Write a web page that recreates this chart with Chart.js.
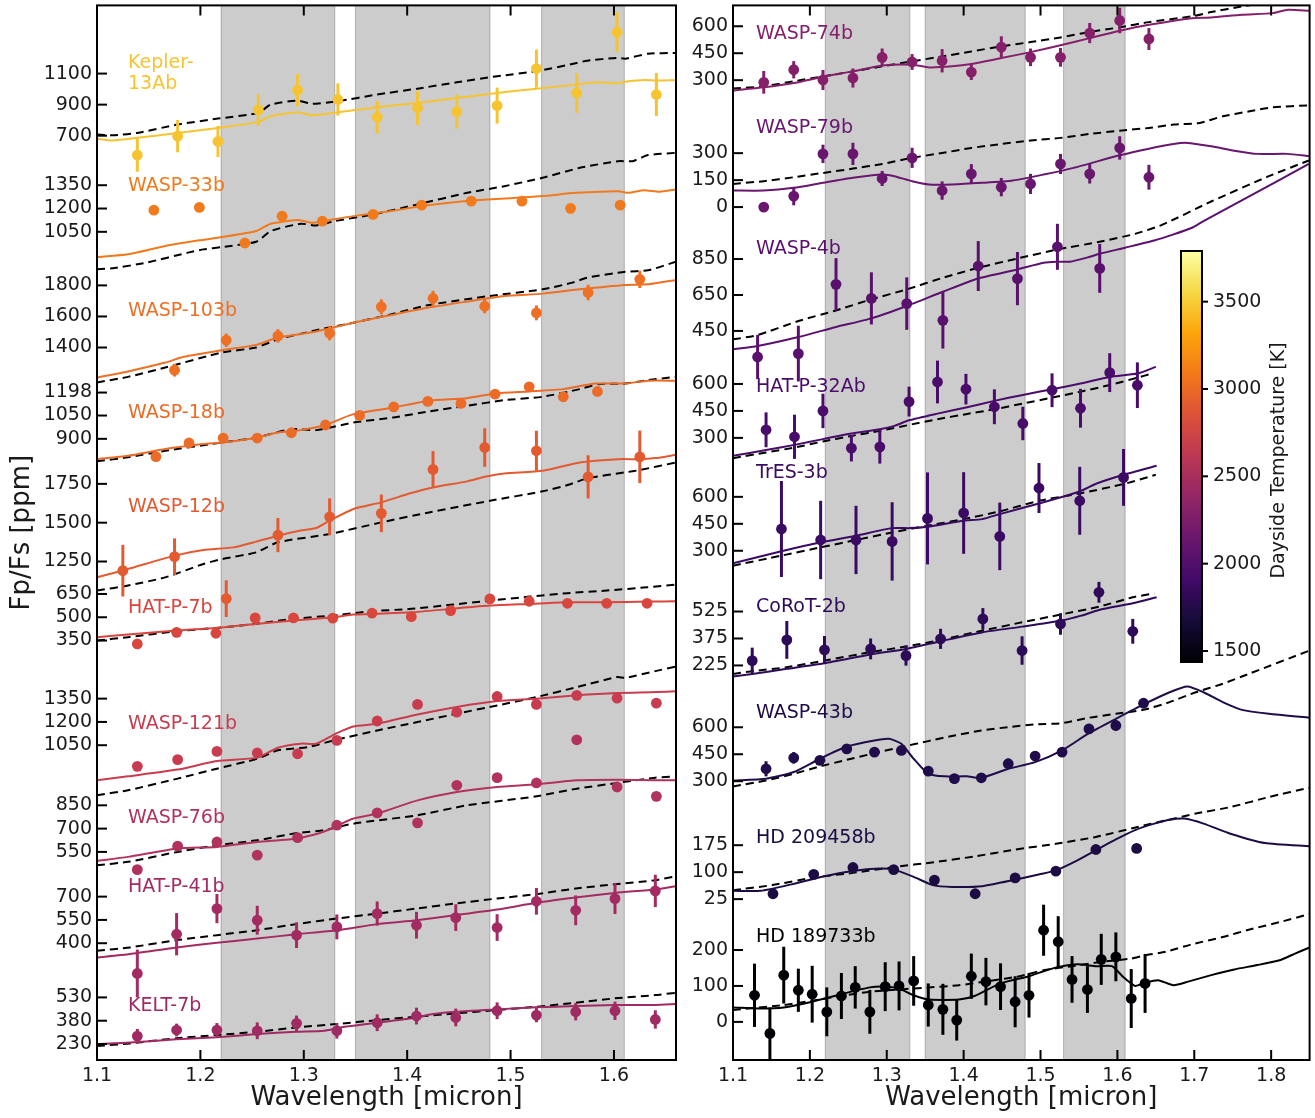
<!DOCTYPE html>
<html>
<head>
<meta charset="utf-8">
<script src="https://cdn.jsdelivr.net/npm/chart.js@4.4.0/dist/chart.umd.min.js"></script>
<style>
  html, body { margin: 0; padding: 0; background: #fff; }
  #wrap { position: relative; width: 1315px; height: 1118px; }
  canvas { position: absolute; top: 0; }
  #left { left: 0; }
  #right { left: 690px; }
</style>
</head>
<body>
<div id="wrap">
  <canvas id="left" width="690" height="1118"></canvas>
  <canvas id="right" width="625" height="1118"></canvas>
</div>
<script>
// ---- data: [wavelength, Fp/Fs ppm, error] and model curves [wavelength, ppm] ----
const kepler13Ab_obs = [[1.139,575,107],[1.178,697,104],[1.217,663,100],[1.256,866,102],[1.294,993,105],[1.333,933,104],[1.371,819,105],[1.410,879,109],[1.448,855,110],[1.487,894,116],[1.525,1132,123],[1.564,975,129],[1.603,1366,129],[1.641,965,139]];
const kepler13Ab_model = [[1.100,680],[1.115,669],[1.139,686],[1.178,718],[1.217,750],[1.256,789],[1.268,825],[1.294,851],[1.308,832],[1.333,851],[1.371,883],[1.410,911],[1.448,943],[1.487,975],[1.525,1003],[1.564,1029],[1.582,1044],[1.603,1038],[1.614,1050],[1.629,1059],[1.641,1055],[1.660,1057]];
const kepler13Ab_bb = [[1.100,708],[1.115,703],[1.139,718],[1.178,772],[1.217,810],[1.256,847],[1.268,900],[1.294,926],[1.308,905],[1.333,922],[1.371,965],[1.410,1003],[1.448,1044],[1.487,1083],[1.525,1115],[1.564,1168],[1.574,1183],[1.603,1201],[1.611,1196],[1.633,1228],[1.660,1233]];
const kepler13Ab_ticks = [700, 900, 1100];

const wasp33b_obs = [[1.155,1190,15],[1.199,1207,15],[1.243,978,15],[1.279,1151,15],[1.318,1119,15],[1.367,1162,15],[1.414,1222,15],[1.462,1248,15],[1.511,1248,15],[1.558,1201,15],[1.606,1222,15]];
const wasp33b_model = [[1.100,888],[1.130,905],[1.166,959],[1.199,995],[1.221,1016],[1.254,1055],[1.268,1102],[1.294,1126],[1.308,1108],[1.319,1119],[1.348,1151],[1.385,1184],[1.414,1216],[1.462,1252],[1.494,1265],[1.531,1280],[1.563,1301],[1.604,1312],[1.614,1301],[1.629,1318],[1.644,1308],[1.660,1323]];
const wasp33b_bb = [[1.100,809],[1.115,815],[1.148,852],[1.188,916],[1.203,937],[1.221,952],[1.254,986],[1.268,1055],[1.297,1102],[1.312,1091],[1.330,1119],[1.367,1162],[1.407,1222],[1.458,1301],[1.494,1344],[1.531,1398],[1.567,1462],[1.604,1505],[1.618,1505],[1.633,1544],[1.660,1559]];
const wasp33b_ticks = [1050, 1200, 1350];

const wasp103b_obs = [[1.175,1254,41],[1.225,1447,43],[1.275,1475,43],[1.325,1492,46],[1.375,1662,48],[1.425,1717,48],[1.475,1666,46],[1.525,1623,48],[1.575,1754,50],[1.625,1839,56]];
const wasp103b_model = [[1.100,1207],[1.130,1246],[1.166,1303],[1.184,1340],[1.221,1383],[1.254,1417],[1.275,1464],[1.312,1503],[1.348,1560],[1.385,1610],[1.421,1657],[1.458,1696],[1.494,1732],[1.531,1747],[1.567,1775],[1.611,1803],[1.633,1807],[1.660,1835]];
const wasp103b_bb = [[1.100,1175],[1.130,1211],[1.166,1271],[1.221,1368],[1.254,1400],[1.275,1453],[1.312,1511],[1.348,1560],[1.385,1614],[1.421,1674],[1.480,1732],[1.531,1775],[1.560,1818],[1.574,1850],[1.611,1888],[1.633,1897],[1.660,1953]];
const wasp103b_ticks = [1400, 1600, 1800];

const wasp18b_obs = [[1.157,785,15],[1.189,873,15],[1.222,905,15],[1.255,905,15],[1.288,939,15],[1.321,989,15],[1.354,1051,15],[1.387,1106,15],[1.420,1141,15],[1.452,1128,15],[1.485,1188,15],[1.518,1235,15],[1.551,1171,15],[1.584,1205,15]];
const wasp18b_model = [[1.100,770],[1.130,791],[1.166,834],[1.203,866],[1.222,877],[1.255,909],[1.275,941],[1.297,956],[1.321,989],[1.348,1059],[1.387,1102],[1.421,1145],[1.458,1162],[1.485,1192],[1.518,1205],[1.551,1220],[1.582,1256],[1.611,1256],[1.633,1274],[1.660,1274]];
const wasp18b_bb = [[1.100,755],[1.130,781],[1.166,823],[1.222,877],[1.255,909],[1.288,963],[1.312,956],[1.348,1005],[1.387,1038],[1.421,1076],[1.458,1113],[1.494,1149],[1.531,1171],[1.567,1220],[1.585,1252],[1.611,1256],[1.633,1278],[1.660,1299]];
const wasp18b_ticks = [900, 1050, 1198];

const wasp12b_obs = [[1.125,1191,166],[1.175,1281,118],[1.225,1011,118],[1.275,1420,110],[1.325,1538,119],[1.375,1560,121],[1.425,1843,118],[1.475,1984,124],[1.525,1963,129],[1.575,1795,139],[1.625,1924,169]];
const wasp12b_model = [[1.100,1148],[1.130,1202],[1.175,1288],[1.203,1324],[1.232,1341],[1.254,1378],[1.275,1416],[1.297,1449],[1.312,1466],[1.325,1513],[1.348,1588],[1.375,1631],[1.403,1689],[1.425,1727],[1.458,1766],[1.475,1796],[1.494,1817],[1.531,1834],[1.567,1888],[1.604,1909],[1.625,1909],[1.640,1916],[1.660,1937]];
const wasp12b_bb = [[1.100,1063],[1.130,1095],[1.166,1148],[1.203,1234],[1.221,1266],[1.254,1309],[1.275,1374],[1.325,1427],[1.375,1502],[1.421,1566],[1.480,1641],[1.531,1702],[1.556,1744],[1.575,1787],[1.611,1824],[1.625,1839],[1.660,1888]];
const wasp12b_ticks = [1250, 1500, 1750];

const hatp7b_obs = [[1.139,328,15],[1.177,403,15],[1.215,397,15],[1.253,496,15],[1.290,496,15],[1.328,494,15],[1.366,526,15],[1.404,504,15],[1.442,543,20],[1.480,618,22],[1.518,603,25],[1.555,590,25],[1.593,590,25],[1.632,590,25]];
const hatp7b_model = [[1.100,372],[1.130,389],[1.177,414],[1.215,431],[1.253,457],[1.290,479],[1.328,500],[1.348,517],[1.404,532],[1.442,554],[1.480,575],[1.518,586],[1.555,597],[1.593,597],[1.632,601],[1.660,603]];
const hatp7b_bb = [[1.100,350],[1.130,372],[1.177,410],[1.215,431],[1.253,457],[1.290,490],[1.328,511],[1.366,539],[1.404,554],[1.442,580],[1.480,607],[1.518,633],[1.555,655],[1.593,672],[1.632,693],[1.660,710]];
const hatp7b_ticks = [350, 500, 650];

const wasp121b_obs = [[1.139,914,15],[1.178,957,15],[1.216,1010,15],[1.255,1000,15],[1.294,995,15],[1.332,1081,15],[1.371,1206,15],[1.410,1313,15],[1.448,1263,15],[1.487,1364,15],[1.525,1313,15],[1.564,1371,15],[1.603,1353,15],[1.641,1321,15]];
const wasp121b_model = [[1.100,824],[1.130,850],[1.178,893],[1.216,948],[1.255,970],[1.275,1034],[1.297,1060],[1.312,1060],[1.332,1128],[1.348,1171],[1.371,1188],[1.410,1248],[1.448,1296],[1.487,1334],[1.525,1349],[1.564,1371],[1.603,1386],[1.641,1392],[1.660,1398]];
const wasp121b_bb = [[1.100,728],[1.130,760],[1.178,835],[1.216,899],[1.255,963],[1.275,1017],[1.304,1038],[1.332,1086],[1.371,1145],[1.410,1199],[1.448,1253],[1.487,1306],[1.525,1360],[1.564,1424],[1.603,1489],[1.611,1484],[1.640,1527],[1.660,1557]];
const wasp121b_ticks = [1050, 1200, 1350];

const wasp76b_obs = [[1.139,436,15],[1.178,587,15],[1.216,614,15],[1.255,529,15],[1.294,642,15],[1.332,722,15],[1.371,801,15],[1.410,737,15],[1.448,979,15],[1.487,1028,15],[1.525,994,15],[1.564,1272,20],[1.603,968,20],[1.641,908,22]];
const wasp76b_model = [[1.100,492],[1.130,518],[1.178,572],[1.216,582],[1.255,614],[1.294,636],[1.319,679],[1.348,765],[1.371,797],[1.410,882],[1.448,936],[1.487,968],[1.525,985],[1.564,1011],[1.603,1015],[1.641,1011],[1.660,1011]];
const wasp76b_bb = [[1.100,464],[1.130,486],[1.178,550],[1.216,593],[1.255,625],[1.294,672],[1.319,689],[1.348,732],[1.410,786],[1.458,850],[1.525,908],[1.564,957],[1.603,994],[1.640,1028],[1.660,1037]];
const wasp76b_ticks = [550, 700, 850];

const hatp41b_obs = [[1.139,205,154],[1.177,458,136],[1.216,623,94],[1.255,548,93],[1.293,452,83],[1.332,505,80],[1.371,591,78],[1.409,516,86],[1.447,565,86],[1.487,501,86],[1.525,670,86],[1.563,612,96],[1.601,687,99],[1.640,737,104]];
const hatp41b_model = [[1.100,308],[1.132,330],[1.177,373],[1.216,403],[1.255,430],[1.293,458],[1.332,484],[1.371,523],[1.409,548],[1.447,581],[1.487,617],[1.525,660],[1.563,694],[1.601,724],[1.640,746],[1.660,767]];
const hatp41b_bb = [[1.100,351],[1.132,373],[1.177,420],[1.216,452],[1.255,484],[1.293,523],[1.332,559],[1.371,591],[1.409,623],[1.447,656],[1.487,688],[1.525,716],[1.563,752],[1.601,780],[1.640,806],[1.660,831]];
const hatp41b_ticks = [400, 550, 700];

const kelt7b_obs = [[1.139,281,46],[1.177,320,41],[1.216,320,45],[1.255,315,54],[1.293,363,50],[1.332,315,50],[1.371,367,54],[1.409,410,54],[1.447,401,57],[1.487,444,54],[1.525,416,46],[1.563,438,56],[1.601,444,59],[1.640,388,59]];
const kelt7b_model = [[1.100,230],[1.132,239],[1.177,260],[1.216,273],[1.255,294],[1.293,309],[1.320,316],[1.341,342],[1.371,367],[1.409,401],[1.425,423],[1.447,438],[1.487,453],[1.525,466],[1.563,474],[1.601,481],[1.640,481],[1.660,487]];
const kelt7b_bb = [[1.100,217],[1.132,234],[1.177,267],[1.216,288],[1.255,309],[1.293,337],[1.332,359],[1.371,384],[1.409,406],[1.447,427],[1.487,449],[1.525,470],[1.563,496],[1.601,524],[1.640,545],[1.660,560]];
const kelt7b_ticks = [230, 380, 530];

const wasp74b_obs = [[1.140,288,63],[1.179,358,48],[1.217,301,56],[1.256,312,53],[1.294,427,49],[1.333,401,44],[1.372,408,65],[1.410,345,44],[1.449,484,60],[1.487,427,49],[1.526,427,52],[1.564,562,56],[1.603,632,71],[1.641,529,61]];
const wasp74b_model = [[1.100,242],[1.140,260],[1.179,284],[1.217,319],[1.256,349],[1.294,382],[1.333,386],[1.355,371],[1.385,377],[1.410,390],[1.449,423],[1.487,456],[1.526,494],[1.564,534],[1.603,575],[1.641,608],[1.697,645],[1.722,649],[1.762,664],[1.802,673],[1.822,692],[1.850,686]];
const wasp74b_bb = [[1.100,253],[1.140,266],[1.179,294],[1.217,321],[1.256,349],[1.294,377],[1.333,405],[1.372,432],[1.410,460],[1.449,488],[1.487,512],[1.526,538],[1.564,568],[1.603,594],[1.641,623],[1.697,655],[1.722,679],[1.762,710],[1.782,723],[1.802,729],[1.850,775]];
const wasp74b_ticks = [300, 450, 600];

const wasp79b_obs = [[1.140,0,12],[1.179,61,51],[1.217,296,51],[1.256,296,62],[1.294,159,42],[1.333,274,56],[1.372,92,51],[1.410,185,54],[1.449,111,51],[1.487,129,56],[1.526,240,56],[1.564,185,54],[1.603,329,65],[1.641,166,69]];
const wasp79b_model = [[1.100,92],[1.140,92],[1.179,107],[1.217,135],[1.256,163],[1.294,181],[1.310,172],[1.333,144],[1.355,126],[1.385,126],[1.424,135],[1.464,148],[1.504,181],[1.543,218],[1.603,288],[1.641,325],[1.673,351],[1.691,357],[1.722,338],[1.752,314],[1.782,296],[1.821,296],[1.850,283]];
const wasp79b_bb = [[1.100,129],[1.140,144],[1.179,166],[1.217,190],[1.256,214],[1.294,240],[1.333,274],[1.372,301],[1.410,329],[1.449,351],[1.487,370],[1.526,385],[1.564,407],[1.603,425],[1.641,440],[1.673,459],[1.707,468],[1.737,505],[1.772,533],[1.802,555],[1.850,566]];
const wasp79b_ticks = [0, 150, 300];

const wasp4b_obs = [[1.132,305,123],[1.185,324,155],[1.234,709,146],[1.280,631,145],[1.326,602,146],[1.373,509,157],[1.419,811,139],[1.470,741,148],[1.522,918,128],[1.577,798,136]];
const wasp4b_model = [[1.100,348],[1.132,366],[1.185,416],[1.234,472],[1.280,520],[1.326,589],[1.373,668],[1.419,742],[1.470,792],[1.504,829],[1.522,835],[1.538,835],[1.563,861],[1.577,879],[1.610,913],[1.648,953],[1.673,987],[1.697,1024],[1.712,1061],[1.772,1200],[1.849,1379]];
const wasp4b_bb = [[1.100,403],[1.132,427],[1.185,505],[1.234,564],[1.280,626],[1.326,681],[1.373,746],[1.419,801],[1.470,853],[1.522,903],[1.577,946],[1.623,990],[1.658,1040],[1.722,1170],[1.797,1311],[1.849,1398]];
const wasp4b_ticks = [450, 650, 850];

const hatp32Ab_obs = [[1.143,345,97],[1.180,306,123],[1.217,450,96],[1.254,243,74],[1.291,250,93],[1.329,502,83],[1.366,611,119],[1.403,571,85],[1.440,473,97],[1.477,380,93],[1.515,565,94],[1.552,465,108],[1.590,663,108],[1.626,593,127]];
const hatp32Ab_model = [[1.100,200],[1.143,232],[1.180,261],[1.217,293],[1.254,324],[1.291,348],[1.310,367],[1.329,398],[1.366,435],[1.403,469],[1.440,506],[1.477,539],[1.515,571],[1.552,602],[1.590,639],[1.626,658],[1.650,695]];
const hatp32Ab_bb = [[1.100,187],[1.143,219],[1.180,246],[1.217,280],[1.254,311],[1.291,339],[1.329,372],[1.366,404],[1.403,432],[1.440,459],[1.477,491],[1.515,524],[1.552,557],[1.590,594],[1.626,635],[1.645,658]];
const hatp32Ab_ticks = [300, 450, 600];

const tres3b_obs = [[1.163,421,267],[1.214,360,218],[1.260,360,190],[1.307,352,218],[1.353,480,256],[1.400,510,227],[1.447,380,188],[1.498,649,139],[1.551,578,189],[1.608,708,158]];
const tres3b_model = [[1.100,230],[1.163,297],[1.214,347],[1.260,384],[1.307,426],[1.330,426],[1.353,434],[1.400,467],[1.424,476],[1.447,504],[1.498,563],[1.551,630],[1.573,674],[1.608,723],[1.651,773]];
const tres3b_bb = [[1.100,217],[1.163,273],[1.214,319],[1.260,360],[1.307,402],[1.353,439],[1.400,476],[1.447,519],[1.498,578],[1.551,619],[1.608,671],[1.650,723]];
const tres3b_ticks = [300, 450, 600];

const corot2b_obs = [[1.125,252,72],[1.170,367,105],[1.219,312,77],[1.279,317,58],[1.325,280,56],[1.370,373,56],[1.425,484,60],[1.476,308,79],[1.526,456,60],[1.576,632,58],[1.620,415,69]];
const corot2b_model = [[1.100,163],[1.125,178],[1.170,206],[1.219,237],[1.279,286],[1.325,317],[1.370,360],[1.425,410],[1.476,441],[1.526,474],[1.553,502],[1.576,534],[1.620,571],[1.651,604]];
const corot2b_bb = [[1.100,178],[1.125,193],[1.170,215],[1.219,252],[1.279,299],[1.325,330],[1.370,367],[1.425,419],[1.476,465],[1.526,508],[1.576,552],[1.620,604],[1.648,626]];
const corot2b_ticks = [225, 375, 525];

const wasp43b_obs = [[1.143,369,42],[1.179,430,32],[1.213,416,25],[1.248,480,25],[1.284,462,25],[1.319,471,25],[1.354,356,25],[1.388,314,25],[1.423,319,25],[1.458,397,28],[1.493,440,28],[1.528,462,25],[1.563,591,28],[1.598,610,28],[1.634,734,28]];
const wasp43b_model = [[1.100,304],[1.143,314],[1.179,351],[1.213,425],[1.248,493],[1.284,527],[1.303,536],[1.319,508],[1.335,425],[1.354,341],[1.375,327],[1.404,327],[1.423,319],[1.458,369],[1.493,406],[1.528,471],[1.563,567],[1.598,647],[1.634,727],[1.668,795],[1.691,827],[1.712,795],[1.737,740],[1.762,697],[1.797,675],[1.850,653]];
const wasp43b_bb = [[1.100,271],[1.143,304],[1.179,341],[1.213,382],[1.248,419],[1.284,456],[1.319,490],[1.354,523],[1.388,554],[1.423,582],[1.458,601],[1.493,616],[1.528,623],[1.563,653],[1.598,675],[1.634,697],[1.668,740],[1.702,795],[1.737,842],[1.772,899],[1.850,1027]];
const wasp43b_ticks = [300, 450, 600];

const hd209458b_obs = [[1.152,40,5],[1.205,94,5],[1.256,113,5],[1.309,107,5],[1.362,78,5],[1.415,40,5],[1.467,84,5],[1.520,103,5],[1.572,163,5],[1.625,166,7]];
const hd209458b_model = [[1.100,48],[1.136,48],[1.176,66],[1.216,87],[1.256,103],[1.290,110],[1.309,107],[1.335,87],[1.360,64],[1.385,59],[1.424,61],[1.467,79],[1.499,94],[1.520,105],[1.548,133],[1.572,161],[1.598,191],[1.623,217],[1.648,235],[1.668,246],[1.687,249],[1.712,235],[1.747,207],[1.792,181],[1.850,172]];
const hd209458b_bb = [[1.100,50],[1.151,64],[1.205,85],[1.256,98],[1.309,114],[1.362,128],[1.415,144],[1.467,163],[1.520,179],[1.572,198],[1.625,225],[1.663,244],[1.702,263],[1.747,281],[1.797,309],[1.850,335]];
const hd209458b_ticks = [25, 100, 175];

const hd189733b_obs = [[1.128,74,88],[1.148,-32,72],[1.166,130,79],[1.185,88,60],[1.203,77,79],[1.222,28,68],[1.241,72,64],[1.259,96,59],[1.278,28,61],[1.298,98,68],[1.316,100,68],[1.335,114,69],[1.354,47,60],[1.373,35,71],[1.391,5,57],[1.410,127,63],[1.429,112,66],[1.448,98,65],[1.467,56,71],[1.485,74,62],[1.504,255,71],[1.523,223,71],[1.541,118,65],[1.561,90,65],[1.579,174,71],[1.598,181,68],[1.618,65,82],[1.636,107,82]];
const hd189733b_model = [[1.100,40],[1.136,37],[1.166,40],[1.203,56],[1.241,77],[1.278,96],[1.298,98],[1.316,93],[1.335,74],[1.355,62],[1.394,62],[1.414,72],[1.448,107],[1.485,127],[1.504,141],[1.524,153],[1.548,160],[1.573,155],[1.593,155],[1.608,124],[1.623,100],[1.636,109],[1.653,116],[1.673,102],[1.692,112],[1.722,130],[1.752,146],[1.782,158],[1.812,172],[1.831,190],[1.850,207]];
const hd189733b_bb = [[1.100,33],[1.166,47],[1.203,59],[1.241,72],[1.278,84],[1.316,90],[1.355,96],[1.394,102],[1.434,114],[1.473,127],[1.504,144],[1.541,155],[1.579,167],[1.618,176],[1.638,186],[1.663,195],[1.697,216],[1.737,236],[1.772,257],[1.812,278],[1.850,300]];
const hd189733b_ticks = [0, 100, 200];

const xTicksLeft = [1.1, 1.2, 1.3, 1.4, 1.5, 1.6];
const xTicksRight = [1.1, 1.2, 1.3, 1.4, 1.5, 1.6, 1.7, 1.8];
const grayBands = [[1.22, 1.33], [1.35, 1.48], [1.53, 1.61]];
const cbarTicks = [1500, 2000, 2500, 3000, 3500];
const cbarRange = [1437, 3790];

// ---- stacking: each spectrum is shifted by an offset on a shared axis ----
const leftPanel = [
  { label: ['Kepler-', '13Ab'], obs: kepler13Ab_obs, model: kepler13Ab_model, bb: kepler13Ab_bb, ticks: kepler13Ab_ticks, color: '#f6c431', offset: 5252, labelAt: 1100 },
  { label: ['WASP-33b'], obs: wasp33b_obs, model: wasp33b_model, bb: wasp33b_bb, ticks: wasp33b_ticks, color: '#f17a1c', offset: 4283, labelAt: 1344 },
  { label: ['WASP-103b'], obs: wasp103b_obs, model: wasp103b_model, bb: wasp103b_bb, ticks: wasp103b_ticks, color: '#ee7024', offset: 3188, labelAt: 1635 },
  { label: ['WASP-18b'], obs: wasp18b_obs, model: wasp18b_model, bb: wasp18b_bb, ticks: wasp18b_ticks, color: '#ec6b26', offset: 3100, labelAt: 1067 },
  { label: ['WASP-12b'], obs: wasp12b_obs, model: wasp12b_model, bb: wasp12b_bb, ticks: wasp12b_ticks, color: '#e35a31', offset: 1960, labelAt: 1603 },
  { label: ['HAT-P-7b'], obs: hatp7b_obs, model: hatp7b_model, bb: hatp7b_bb, ticks: hatp7b_ticks, color: '#d8463e', offset: 2351, labelAt: 556 },
  { label: ['WASP-121b'], obs: wasp121b_obs, model: wasp121b_model, bb: wasp121b_bb, ticks: wasp121b_ticks, color: '#c83c4e', offset: 977, labelAt: 1184 },
  { label: ['WASP-76b'], obs: wasp76b_obs, model: wasp76b_model, bb: wasp76b_bb, ticks: wasp76b_ticks, color: '#b1325d', offset: 790, labelAt: 766 },
  { label: ['HAT-P-41b'], obs: hatp41b_obs, model: hatp41b_model, bb: hatp41b_bb, ticks: hatp41b_ticks, color: '#a32b62', offset: 352, labelAt: 761 },
  { label: ['KELT-7b'], obs: kelt7b_obs, model: kelt7b_model, bb: kelt7b_bb, ticks: kelt7b_ticks, color: '#a02a62', offset: -127, labelAt: 474 }
];
const rightPanel = [
  { label: ['WASP-74b'], obs: wasp74b_obs, model: wasp74b_model, bb: wasp74b_bb, ticks: wasp74b_ticks, color: '#861f6a', offset: 5151, labelAt: 555 },
  { label: ['WASP-79b'], obs: wasp79b_obs, model: wasp79b_model, bb: wasp79b_bb, ticks: wasp79b_ticks, color: '#68166e', offset: 4745, labelAt: 438 },
  { label: ['WASP-4b'], obs: wasp4b_obs, model: wasp4b_model, bb: wasp4b_bb, ticks: wasp4b_ticks, color: '#5a116e', offset: 3606, labelAt: 905 },
  { label: ['HAT-P-32Ab'], obs: hatp32Ab_obs, model: hatp32Ab_model, bb: hatp32Ab_bb, ticks: hatp32Ab_ticks, color: '#4a0c6b', offset: 3161, labelAt: 583 },
  { label: ['TrES-3b'], obs: tres3b_obs, model: tres3b_model, bb: tres3b_bb, ticks: tres3b_ticks, color: '#3b0a63', offset: 2533, labelAt: 734 },
  { label: ['CoRoT-2b'], obs: corot2b_obs, model: corot2b_model, bb: corot2b_bb, ticks: corot2b_ticks, color: '#2d0b59', offset: 1970, labelAt: 552 },
  { label: ['WASP-43b'], obs: wasp43b_obs, model: wasp43b_model, bb: wasp43b_bb, ticks: wasp43b_ticks, color: '#200c4a', offset: 1251, labelAt: 677 },
  { label: ['HD 209458b'], obs: hd209458b_obs, model: hd209458b_model, bb: hd209458b_bb, ticks: hd209458b_ticks, color: '#1c0c43', offset: 845, labelAt: 194, mult: 2 },
  { label: ['HD 189733b'], obs: hd189733b_obs, model: hd189733b_model, bb: hd189733b_bb, ticks: hd189733b_ticks, color: '#000004', offset: 212, labelAt: 236, mult: 2 }
];

const FONT = "'DejaVu Sans', sans-serif";
const INK = '#1a1a1a';
const inferno = [[0, '#000004'], [0.1, '#160b39'], [0.2, '#420a68'], [0.3, '#6a176e'], [0.4, '#932667'], [0.5, '#bc3754'], [0.6, '#dd513a'], [0.7, '#f37819'], [0.8, '#fca50a'], [0.9, '#f6d746'], [1, '#fcffa4']];

function makeChart(id, stack, o) {
  const datasets = [];
  const tickPos = [];
  const tickText = new Map();
  stack.forEach(p => {
    const m = p.mult || 1;
    const lift = v => v * m + p.offset;
    datasets.push({
      data: p.obs.map(d => ({ x: d[0], y: lift(d[1]) })),
      errs: p.obs.map(d => d[2] * m),
      backgroundColor: p.color, borderColor: p.color,
      pointRadius: 5.4, pointHoverRadius: 5.4, borderWidth: 0, order: 0
    });
    datasets.push({
      data: p.model.map(d => ({ x: d[0], y: lift(d[1]) })),
      showLine: true, borderColor: p.color, borderWidth: 2,
      pointRadius: 0, tension: 0.2, order: 1
    });
    datasets.push({
      data: p.bb.map(d => ({ x: d[0], y: lift(d[1]) })),
      showLine: true, borderColor: '#000', borderWidth: 2, borderDash: [8, 5],
      pointRadius: 0, tension: 0.2, order: 2
    });
    p.ticks.forEach(t => { const v = lift(t); tickPos.push(v); tickText.set(v, String(t)); });
  });
  tickPos.sort((a, b) => a - b);

  const decor = {
    id: 'decor',
    beforeDatasetsDraw(chart) {
      const { ctx, chartArea: a, scales: { x } } = chart;
      ctx.save();
      grayBands.forEach(b => {
        const x0 = x.getPixelForValue(b[0]), x1 = x.getPixelForValue(b[1]);
        ctx.fillStyle = 'rgba(128,128,128,0.4)';
        ctx.fillRect(x0, a.top, x1 - x0, a.bottom - a.top);
        ctx.strokeStyle = 'rgba(110,110,110,0.45)';
        ctx.lineWidth = 1;
        ctx.strokeRect(x0, a.top, x1 - x0, a.bottom - a.top);
      });
      ctx.restore();
    },
    beforeDatasetDraw(chart, args) {
      const ds = chart.data.datasets[args.index];
      if (!ds.errs) return;
      const { ctx, scales: { x, y } } = chart;
      ctx.save();
      ctx.strokeStyle = ds.borderColor;
      ctx.lineWidth = 3;
      ds.data.forEach((pt, i) => {
        const e = ds.errs[i];
        if (!e) return;
        const px = x.getPixelForValue(pt.x);
        ctx.beginPath();
        ctx.moveTo(px, y.getPixelForValue(pt.y - e));
        ctx.lineTo(px, y.getPixelForValue(pt.y + e));
        ctx.stroke();
      });
      ctx.restore();
    },
    afterDraw(chart) {
      const { ctx, chartArea: a, scales: { x, y } } = chart;
      ctx.save();
      // inward ticks
      ctx.strokeStyle = '#000';
      ctx.lineWidth = 2;
      x.ticks.forEach(t => {
        const px = x.getPixelForValue(t.value);
        ctx.beginPath();
        ctx.moveTo(px, a.bottom); ctx.lineTo(px, a.bottom - 10);
        ctx.moveTo(px, a.top); ctx.lineTo(px, a.top + 10);
        ctx.stroke();
      });
      y.ticks.forEach(t => {
        const py = y.getPixelForValue(t.value);
        ctx.beginPath();
        ctx.moveTo(a.left, py); ctx.lineTo(a.left + 10, py);
        ctx.stroke();
      });
      ctx.lineWidth = 2;
      ctx.strokeRect(a.left, a.top, a.right - a.left, a.bottom - a.top);
      // planet names
      ctx.font = '19px ' + FONT;
      ctx.textAlign = 'left';
      ctx.textBaseline = 'middle';
      const lx = x.getPixelForValue(o.labelX);
      stack.forEach(p => {
        const m = p.mult || 1;
        const ly = y.getPixelForValue(p.labelAt * m + p.offset);
        ctx.fillStyle = p.color;
        const n = p.label.length;
        p.label.forEach((s, i) => ctx.fillText(s, lx, ly + (i - (n - 1) / 2) * 21));
      });
      // colour bar
      if (o.colorbar) {
        const cb = o.colorbar;
        const g = ctx.createLinearGradient(0, cb.bottom, 0, cb.top);
        inferno.forEach(s => g.addColorStop(s[0], s[1]));
        ctx.fillStyle = g;
        ctx.fillRect(cb.left, cb.top, cb.width, cb.bottom - cb.top);
        ctx.strokeStyle = '#000';
        ctx.lineWidth = 2;
        ctx.strokeRect(cb.left, cb.top, cb.width, cb.bottom - cb.top);
        ctx.fillStyle = INK;
        ctx.font = '19px ' + FONT;
        ctx.textAlign = 'left';
        ctx.textBaseline = 'middle';
        cbarTicks.forEach(T => {
          const py = cb.bottom - (T - cbarRange[0]) / (cbarRange[1] - cbarRange[0]) * (cb.bottom - cb.top);
          ctx.beginPath();
          ctx.moveTo(cb.left + cb.width, py); ctx.lineTo(cb.left + cb.width + 6, py);
          ctx.stroke();
          ctx.fillText(String(T), cb.left + cb.width + 11, py);
        });
        ctx.save();
        ctx.translate(cb.left + cb.width + 77, (cb.top + cb.bottom) / 2 + 4);
        ctx.rotate(-Math.PI / 2);
        ctx.textAlign = 'center';
        ctx.fillText('Dayside Temperature [K]', 0, 0);
        ctx.restore();
      }
      ctx.restore();
    }
  };

  return new Chart(document.getElementById(id), {
    type: 'scatter',
    data: { datasets },
    options: {
      responsive: false,
      animation: false,
      devicePixelRatio: 1,
      layout: { padding: { top: 4, right: o.padRight, left: 0, bottom: 0 } },
      plugins: { legend: { display: false }, tooltip: { enabled: false } },
      scales: {
        x: {
          type: 'linear', min: o.xMin, max: o.xMax,
          grid: { display: false, drawTicks: false }, border: { display: false },
          afterBuildTicks: ax => { ax.ticks = o.xTicks.map(v => ({ value: v })); },
          afterFit: ax => { ax.height = 58; ax.paddingLeft = 0; ax.paddingRight = 0; },
          ticks: { autoSkip: false, maxRotation: 0, padding: 5, color: INK, font: { family: FONT, size: 19 }, callback: v => Number(v).toFixed(1) },
          title: { display: true, text: 'Wavelength [micron]', color: INK, font: { family: FONT, size: 26 }, padding: { top: 0, bottom: 4 } }
        },
        y: {
          type: 'linear', min: 0, max: o.yMax,
          grid: { display: false, drawTicks: false }, border: { display: false },
          afterBuildTicks: ax => { ax.ticks = tickPos.map(v => ({ value: v })); },
          afterFit: ax => { ax.width = o.yWidth; ax.paddingTop = 0; ax.paddingBottom = 0; },
          ticks: { autoSkip: false, padding: 5, color: INK, font: { family: FONT, size: 19 }, callback: v => tickText.get(v) },
          title: o.yTitle
            ? { display: true, text: o.yTitle, color: INK, font: { family: FONT, size: 26 }, padding: { top: 7, bottom: 0 } }
            : { display: false }
        }
      }
    },
    plugins: [decor]
  });
}

makeChart('left', leftPanel, {
  xMin: 1.1, xMax: 1.66, xTicks: xTicksLeft, yMax: 6791, yWidth: 97, padRight: 14,
  labelX: 1.13, yTitle: 'Fp/Fs [ppm]'
});
makeChart('right', rightPanel, {
  xMin: 1.1, xMax: 1.85, xTicks: xTicksRight, yMax: 5867, yWidth: 43, padRight: 2,
  labelX: 1.13, colorbar: { left: 491, top: 251, width: 21, bottom: 662 }
});
</script>
</body>
</html>
